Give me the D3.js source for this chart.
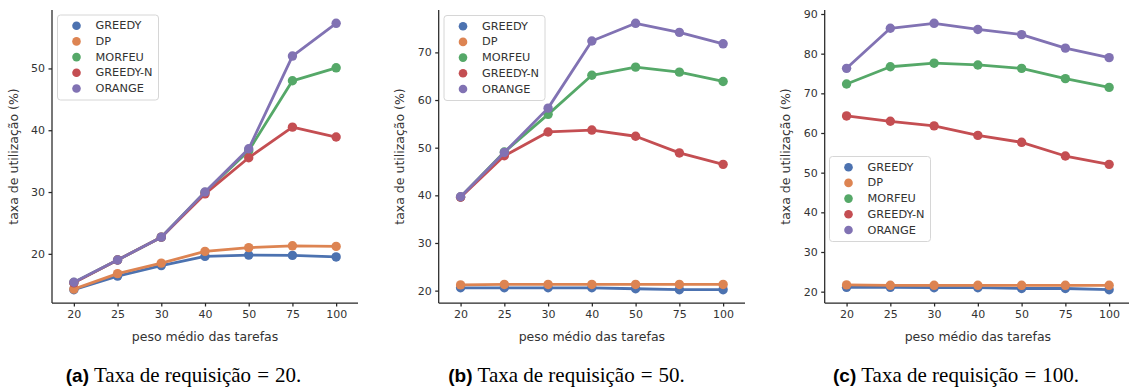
<!DOCTYPE html>
<html>
<head>
<meta charset="utf-8">
<script src="https://cdn.jsdelivr.net/npm/d3@7"></script>
<style>
  body { margin: 0; background: #fff; }
  svg { display: block; }
</style>
</head>
<body>
<svg id="chart" width="1129" height="389"></svg>
<script>
// ---- data ----
const categories = ["20", "25", "30", "40", "50", "75", "100"];
const seriesNames = ["GREEDY", "DP", "MORFEU", "GREEDY-N", "ORANGE"];
const colors = ["#4c72b0", "#dd8452", "#55a868", "#c44e52", "#8172b3"];

// panel (a) taxa de requisição = 20
const a_GREEDY   = [14.2, 16.4, 18.1, 19.6, 19.8, 19.75, 19.5];
const a_DP       = [14.3, 16.8, 18.5, 20.4, 21.0, 21.3, 21.2];
const a_MORFEU   = [15.35, 19.0, 22.7, 29.95, 36.7, 48.0, 50.1];
const a_GREEDYN  = [15.3, 19.0, 22.7, 29.7, 35.55, 40.5, 38.9];
const a_ORANGE   = [15.4, 19.0, 22.7, 30.0, 37.0, 52.0, 57.3];

// panel (b) taxa de requisição = 50
const b_GREEDY   = [20.6, 20.6, 20.6, 20.6, 20.4, 20.2, 20.2];
const b_DP       = [21.2, 21.3, 21.3, 21.3, 21.3, 21.3, 21.3];
const b_MORFEU   = [39.65, 49.1, 57.0, 65.2, 66.9, 65.85, 63.9];
const b_GREEDYN  = [39.6, 48.3, 53.3, 53.7, 52.4, 48.9, 46.5];
const b_ORANGE   = [39.7, 49.0, 58.3, 72.4, 76.1, 74.2, 71.8];

// panel (c) taxa de requisição = 100
const c_GREEDY   = [21.1, 21.1, 21.0, 21.0, 20.8, 20.8, 20.5];
const c_DP       = [21.7, 21.6, 21.6, 21.6, 21.6, 21.6, 21.6];
const c_MORFEU   = [72.35, 76.7, 77.6, 77.15, 76.3, 73.7, 71.5];
const c_GREEDYN  = [64.3, 62.95, 61.8, 59.4, 57.65, 54.2, 52.1];
const c_ORANGE   = [76.3, 86.4, 87.65, 86.1, 84.8, 81.4, 79.0];

const a_yTicks = [20, 30, 40, 50];
const b_yTicks = [20, 30, 40, 50, 60, 70];
const c_yTicks = [20, 30, 40, 50, 60, 70, 80, 90];

const xLabel = "peso médio das tarefas";
const yLabel = "taxa de utilização (%)";
const captionTags = ["(a)", "(b)", "(c)"];
const captionTexts = ["Taxa de requisição", "Taxa de requisição", "Taxa de requisição"];
const captionValues = ["20.", "50.", "100."];

// ---- layout ----
const panels = [
  { series: [a_GREEDY, a_DP, a_MORFEU, a_GREEDYN, a_ORANGE], ticks: a_yTicks,
    x0: 52, x1: 358, legend: { x: 57.5, y: 15 }, cap: 183.5 },
  { series: [b_GREEDY, b_DP, b_MORFEU, b_GREEDYN, b_ORANGE], ticks: b_yTicks,
    x0: 438.7, x1: 745, legend: { x: 444, y: 15.5 }, cap: 566.5 },
  { series: [c_GREEDY, c_DP, c_MORFEU, c_GREEDYN, c_ORANGE], ticks: c_yTicks,
    x0: 824.7, x1: 1131, legend: { x: 829.5, y: 156.5 }, cap: 956 }
];
const plotTop = 10, plotBottom = 303;
const textColor = "#333";
const axisColor = "#262626";

const svg = d3.select("#chart");

panels.forEach((p, pi) => {
  const all = p.series.flat();
  const mn = d3.min(all), mx = d3.max(all), pad = (mx - mn) * 0.05;
  const y = d3.scaleLinear().domain([mn - pad, mx + pad]).range([plotBottom, plotTop]);
  const x = d3.scalePoint().domain(categories).range([p.x0, p.x1]).padding(0.5);

  const g = svg.append("g");

  // series
  p.series.forEach((vals, si) => {
    const line = d3.line().x((d, i) => x(categories[i])).y(d => y(d));
    g.append("path").datum(vals)
      .attr("fill", "none").attr("stroke", colors[si])
      .attr("stroke-width", 2.8).attr("stroke-linejoin", "round")
      .attr("d", line);
    g.selectAll(null).data(vals).enter().append("circle")
      .attr("cx", (d, i) => x(categories[i])).attr("cy", d => y(d))
      .attr("r", 4.7).attr("fill", colors[si]);
  });

  // axes
  const yAxis = d3.axisLeft(y).tickValues(p.ticks).tickSize(3.5).tickPadding(3.5).tickSizeOuter(0);
  const xAxis = d3.axisBottom(x).tickSize(3.5).tickPadding(3.5).tickSizeOuter(0);
  const ya = g.append("g").attr("transform", `translate(${p.x0},0)`).call(yAxis);
  const xa = g.append("g").attr("transform", `translate(0,${plotBottom})`).call(xAxis);
  [ya, xa].forEach(ax => {
    ax.select(".domain").attr("stroke", axisColor).attr("stroke-width", 1.25);
    ax.selectAll(".tick line").attr("stroke", axisColor).attr("stroke-width", 1.25);
    ax.selectAll(".tick text").attr("fill", textColor)
      .style("font-family", "DejaVu Sans").style("font-size", "11px");
  });
  ya.select(".domain").attr("d", `M0,${plotTop}V${plotBottom}`);
  xa.select(".domain").attr("d", `M${p.x0},0H${p.x1}`);

  // labels
  g.append("text").attr("x", (p.x0 + p.x1) / 2).attr("y", 337)
    .attr("text-anchor", "middle").attr("dominant-baseline", "middle")
    .attr("fill", textColor).style("font-family", "DejaVu Sans").style("font-size", "12.5px")
    .text(xLabel);
  g.append("text")
    .attr("transform", `translate(${p.x0 - 38},${(plotTop + plotBottom) / 2}) rotate(-90)`)
    .attr("text-anchor", "middle").attr("dominant-baseline", "middle")
    .attr("fill", textColor).style("font-family", "DejaVu Sans").style("font-size", "12.5px")
    .text(yLabel);

  // legend
  const lg = g.append("g").attr("transform", `translate(${p.legend.x},${p.legend.y})`);
  lg.append("rect").attr("width", 101).attr("height", 85).attr("rx", 3)
    .attr("fill", "#fff").attr("fill-opacity", 0.85)
    .attr("stroke", "#d6d6d6").attr("stroke-width", 1);
  seriesNames.forEach((n, si) => {
    const yy = 10.7 + si * 15.7;
    lg.append("circle").attr("cx", 19).attr("cy", yy).attr("r", 4.3).attr("fill", colors[si]);
    lg.append("text").attr("x", 38).attr("y", yy).attr("dominant-baseline", "central")
      .attr("fill", textColor).style("font-family", "DejaVu Sans").style("font-size", "11.3px")
      .text(n);
  });

  // caption
  const cap = svg.append("text").attr("x", p.cap).attr("y", 382)
    .attr("text-anchor", "middle").attr("fill", "#000");
  cap.append("tspan").style("font-family", "Liberation Sans").style("font-weight", "bold")
    .style("font-size", "19px").text(captionTags[pi]);
  cap.append("tspan").style("font-family", "Liberation Serif").style("font-size", "21px")
    .attr("dx", 5).text(captionTexts[pi]);
  cap.append("tspan").style("font-family", "Liberation Serif").style("font-size", "21px")
    .attr("dx", 6).text("=");
  cap.append("tspan").style("font-family", "Liberation Serif").style("font-size", "21px")
    .attr("dx", 6).text(captionValues[pi]);
});
</script>
</body>
</html>
